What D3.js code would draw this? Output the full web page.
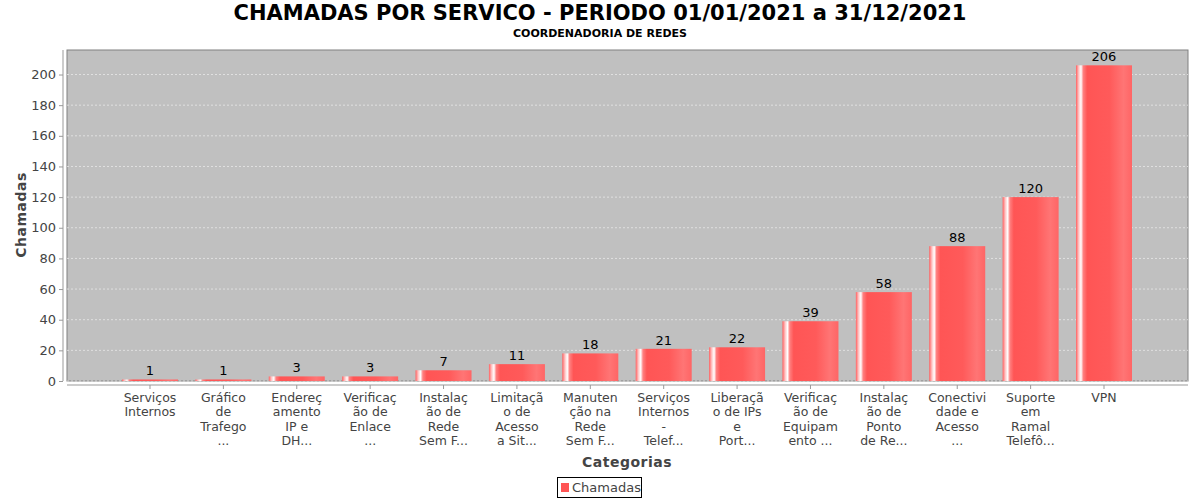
<!DOCTYPE html><html><head><meta charset="utf-8"><script src="https://cdn.jsdelivr.net/npm/d3@7"></script>
<style>body{margin:0;background:#fff}text{font-family:"DejaVu Sans",sans-serif}</style></head><body><svg id="c" width="1200" height="500"></svg>
<script>
const categories=[["Serviços","Internos"],["Gráfico","de","Trafego","..."],["Endereç","amento","IP e","DH..."],["Verificaç","ão de","Enlace","..."],["Instalaç","ão de","Rede","Sem F..."],["Limitaçã","o de","Acesso","a Sit..."],["Manuten","ção na","Rede","Sem F..."],["Serviços","Internos","-","Telef..."],["Liberaçã","o de IPs","e","Port..."],["Verificaç","ão de","Equipam","ento ..."],["Instalaç","ão de","Ponto","de Re..."],["Conectivi","dade e","Acesso","..."],["Suporte","em","Ramal","Telefô..."],["VPN"]];
const values=[1,1,3,3,7,11,18,21,22,39,58,88,120,206];
const yTicks=[0,20,40,60,80,100,120,140,160,180,200];
const svg=d3.select("#c");
const L=67,R=1188,T=50,B=381;
const ids=categories.map((c,i)=>i);
const x=d3.scaleBand().domain(ids).range([113.3,1140.7]).paddingInner(0.237).paddingOuter(0.1185);
const y=d3.scaleLinear().domain([0,216]).range([B,T]);
const g=svg.append("defs").append("linearGradient").attr("id","gr");
[[0,"#ff6060"],[0.05,"#ffc8c8"],[0.09,"#ffffff"],[0.13,"#ff8080"],[0.2,"#ff5555"],[0.6,"#ff5a5a"],[0.85,"#ff7575"],[1,"#ff6565"]].forEach(s=>g.append("stop").attr("offset",s[0]).attr("stop-color",s[1]));
svg.append("rect").attr("x",L).attr("y",T).attr("width",R-L).attr("height",B-T).attr("fill","#c0c0c0").attr("stroke","#808080");
svg.selectAll(".gl").data(yTicks).join("line").attr("x1",L).attr("x2",R).attr("y1",d=>y(d)).attr("y2",d=>y(d)).attr("stroke","#e8e8e8").attr("stroke-dasharray","2,2").attr("stroke-width",0.8);
svg.selectAll(".bar").data(values).join("rect").attr("x",(d,i)=>x(i)).attr("width",x.bandwidth()).attr("y",d=>y(d)).attr("height",d=>B-y(d)).attr("fill","url(#gr)");
svg.selectAll(".vl").data(values).join("text").attr("x",(d,i)=>x(i)+x.bandwidth()/2).attr("y",d=>y(d)-4).attr("text-anchor","middle").attr("font-size",13).text(d=>d);
const ya=svg.append("g").attr("transform","translate(63,0)").call(d3.axisLeft(y).tickValues(yTicks).tickSize(4).tickPadding(3));
ya.selectAll("text").attr("font-size",13).attr("fill","#444");
ya.selectAll("line,path").attr("stroke","#999");
ya.select("path").attr("d",`M0,${T}V${B}`);
const xa=svg.append("g").attr("transform","translate(0,385)").call(d3.axisBottom(x).tickSize(4).tickFormat(""));
xa.selectAll("line,path").attr("stroke","#999");
xa.select("path").attr("d",`M${L},0H${R}`);
categories.forEach((c,i)=>{const t=svg.append("text").attr("text-anchor","middle").attr("font-size",12.5).attr("fill","#444");c.forEach((l,j)=>t.append("tspan").attr("x",x(i)+x.bandwidth()/2).attr("y",402+j*14.3).text(l));});
svg.append("text").attr("x",600).attr("y",20).attr("text-anchor","middle").attr("font-size",21).attr("font-weight","bold").text("CHAMADAS POR SERVICO - PERIODO 01/01/2021 a 31/12/2021");
svg.append("text").attr("x",600).attr("y",37).attr("text-anchor","middle").attr("font-size",11).attr("font-weight","bold").text("COORDENADORIA DE REDES");
svg.append("text").attr("x",627).attr("y",467).attr("text-anchor","middle").attr("font-size",14).attr("font-weight","bold").attr("fill","#444").attr("letter-spacing",0.5).text("Categorias");
svg.append("text").attr("transform","translate(26,215) rotate(-90)").attr("text-anchor","middle").attr("font-size",14).attr("font-weight","bold").attr("fill","#444").attr("letter-spacing",0.5).text("Chamadas");
svg.append("rect").attr("x",557.5).attr("y",477.5).attr("width",84).attr("height",20).attr("fill","#fff").attr("stroke","#000");
svg.append("rect").attr("x",561).attr("y",483).attr("width",8).attr("height",9).attr("fill","#ff5555");
svg.append("text").attr("x",572).attr("y",492).attr("font-size",13).attr("fill","#444").text("Chamadas");
</script></body></html>
